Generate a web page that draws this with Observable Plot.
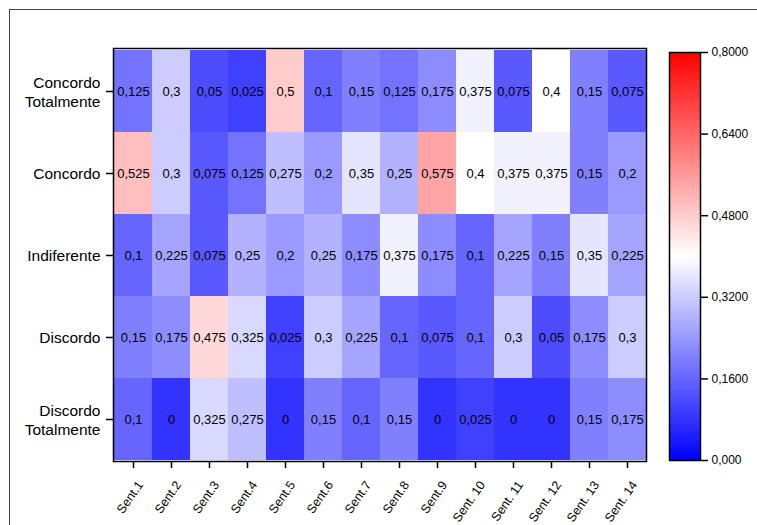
<!DOCTYPE html>
<html>
<head>
<meta charset="utf-8">
<script src="https://cdn.jsdelivr.net/npm/d3@7"></script>
<script src="https://cdn.jsdelivr.net/npm/@observablehq/plot@0.6"></script>
<style>
  html, body { margin: 0; padding: 0; background: #fff; }
  #wrap { position: relative; width: 757px; height: 525px; overflow: hidden; font-family: "Liberation Sans", Arial, sans-serif; }
  #wrap > svg, #wrap > figure { position: absolute; left: 0; top: 0; margin: 0; }
  #border { position: absolute; left: 9px; top: 9px; width: 800px; height: 600px; border-top: 1.5px solid #444; border-left: 1.5px solid #444; }
</style>
</head>
<body>
<div id="wrap"><div id="border"></div></div>
<script>
const rows = ["Concordo Totalmente", "Concordo", "Indiferente", "Discordo", "Discordo Totalmente"];
const sents = ["Sent.1","Sent.2","Sent.3","Sent.4","Sent.5","Sent.6","Sent.7","Sent.8","Sent.9","Sent. 10","Sent. 11","Sent. 12","Sent. 13","Sent. 14"];

const concordoTotalmente = [0.125, 0.3, 0.05, 0.025, 0.5, 0.1, 0.15, 0.125, 0.175, 0.375, 0.075, 0.4, 0.15, 0.075];
const concordo           = [0.525, 0.3, 0.075, 0.125, 0.275, 0.2, 0.35, 0.25, 0.575, 0.4, 0.375, 0.375, 0.15, 0.2];
const indiferente        = [0.1, 0.225, 0.075, 0.25, 0.2, 0.25, 0.175, 0.375, 0.175, 0.1, 0.225, 0.15, 0.35, 0.225];
const discordo           = [0.15, 0.175, 0.475, 0.325, 0.025, 0.3, 0.225, 0.1, 0.075, 0.1, 0.3, 0.05, 0.175, 0.3];
const discordoTotalmente = [0.1, 0, 0.325, 0.275, 0, 0.15, 0.1, 0.15, 0, 0.025, 0, 0, 0.15, 0.175];

const colorTicks = [0, 0.16, 0.32, 0.48, 0.64, 0.8];
const colorTickLabels = ["0,000", "0,1600", "0,3200", "0,4800", "0,6400", "0,8000"];

const series = [concordoTotalmente, concordo, indiferente, discordo, discordoTotalmente];
const data = [];
rows.forEach((r, i) => series[i].forEach((v, j) => data.push({row: r, sent: sents[j], value: v})));

const fmt = v => String(v).replace(".", ",");
const colorScale = {type: "linear", domain: [0, 0.4, 0.8], range: ["#0000ff", "#ffffff", "#ff0000"], interpolate: "rgb"};
const fontFamily = "'Liberation Sans', Arial, sans-serif";

const main = Plot.plot({
  width: 757, height: 525,
  marginLeft: 113, marginRight: 111, marginTop: 48, marginBottom: 64,
  style: {fontFamily, fontSize: "12px", background: "transparent", color: "black", overflow: "visible"},
  x: {domain: sents, padding: 0, label: null},
  y: {domain: rows, padding: 0, label: null},
  color: colorScale,
  marks: [
    Plot.cell(data, {x: "sent", y: "row", fill: "value", fillOpacity: 0.8}),
    Plot.text(data, {x: "sent", y: "row", text: d => fmt(d.value), fill: "black", fontSize: 13}),
    Plot.frame({stroke: "black", strokeWidth: 1.5}),
    Plot.axisX({tickSize: 7, tickFormat: () => "", strokeWidth: 1.5, label: null}),
    Plot.axisX({tickRotate: -55, tickSize: 0, tickPadding: 21, dx: 7, fontSize: 12.5, label: null, fill: "black"}),
    Plot.axisY({tickSize: 7, tickPadding: 6, strokeWidth: 1.5, fontSize: 15.5, label: null, fill: "black", lineHeight: 1.2,
      tickFormat: d => d.replace(" ", "\n")})
  ]
});

const tickMap = new Map(colorTicks.map((t, i) => [t, colorTickLabels[i]]));
const step = 0.004;
const strips = d3.range(0, 0.8, step);

const bar = Plot.plot({
  width: 757, height: 525,
  marginLeft: 669, marginRight: 57, marginTop: 52, marginBottom: 65,
  style: {fontFamily, fontSize: "12px", background: "transparent", color: "black", overflow: "visible"},
  x: {domain: [0, 1], axis: null},
  y: {domain: [0, 0.8], axis: null},
  color: colorScale,
  marks: [
    Plot.rect(strips, {x1: 0, x2: 1, y1: d => d, y2: d => Math.min(0.8, d + step * 1.6), fill: d => d + step / 2}),
    Plot.frame({stroke: "black", strokeWidth: 1.5}),
    Plot.axisY({anchor: "right", ticks: colorTicks, tickFormat: d => tickMap.get(d), tickSize: 7, tickPadding: 4,
      strokeWidth: 1.5, fontSize: 12, label: null, fill: "black"})
  ]
});

const wrap = document.getElementById("wrap");
wrap.appendChild(main);
wrap.appendChild(bar);
</script>
</body>
</html>
